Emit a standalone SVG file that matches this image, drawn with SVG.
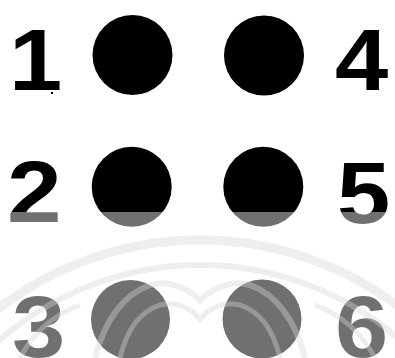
<svg xmlns="http://www.w3.org/2000/svg" width="395" height="358" viewBox="0 0 395 358">
<style>
.num{font-family:"Liberation Sans",Arial,sans-serif;font-weight:bold;font-size:87px;fill:#000}
.dot{fill:#000}
.wm{fill:none;stroke:#d4d4d4;stroke-opacity:0.4}
</style>
<rect width="395" height="358" fill="#fff"/>
<g id="n1"><text class="num" transform="translate(9,90) scale(1.1,1)">1</text><rect x="51" y="92" width="2" height="2" fill="#000"/></g>
<g id="n2"><text class="num" transform="translate(7,221.5) scale(1.13,1)">2</text></g>
<g id="n3"><text class="num" transform="translate(12,356.5) scale(1.1,1)">3</text></g>
<g id="n4"><text class="num" transform="translate(335,90) scale(1.1,1)">4</text></g>
<g id="n5"><text class="num" transform="translate(337,223) scale(1.1,1)">5</text></g>
<g id="n6"><text class="num" transform="translate(335,356.5) scale(1.1,1)">6</text></g>
<g id="d1"><circle class="dot" cx="132.5" cy="55" r="40"/></g>
<g id="d4"><circle class="dot" cx="264" cy="55.5" r="40"/></g>
<g id="d2"><circle class="dot" cx="131.7" cy="186.7" r="40"/></g>
<g id="d5"><circle class="dot" cx="263.3" cy="186.7" r="40"/></g>
<g id="d3"><circle class="dot" cx="130.5" cy="319.5" r="39.5"/></g>
<g id="d6"><circle class="dot" cx="262" cy="319" r="39.5"/></g>
<rect x="0" y="212" width="395" height="146" fill="#fff" fill-opacity="0.44"/>
<g id="watermark">
<circle class="wm" cx="200" cy="570" r="330" stroke-width="9"/>
<circle class="wm" cx="200" cy="570" r="305" stroke-width="6"/>
<path class="wm" d="M95 358 Q110 300 150 285 Q175 278 200 300 Q225 278 250 285 Q290 300 305 358" stroke-width="6"/>
<path class="wm" d="M120 358 Q130 315 160 305 Q185 300 200 320 Q215 300 240 305 Q270 315 280 358" stroke-width="5"/>
<path class="wm" d="M20 358 Q40 320 80 305" stroke-width="5"/>
<path class="wm" d="M375 358 Q355 320 315 305" stroke-width="5"/>
</g>
</svg>
